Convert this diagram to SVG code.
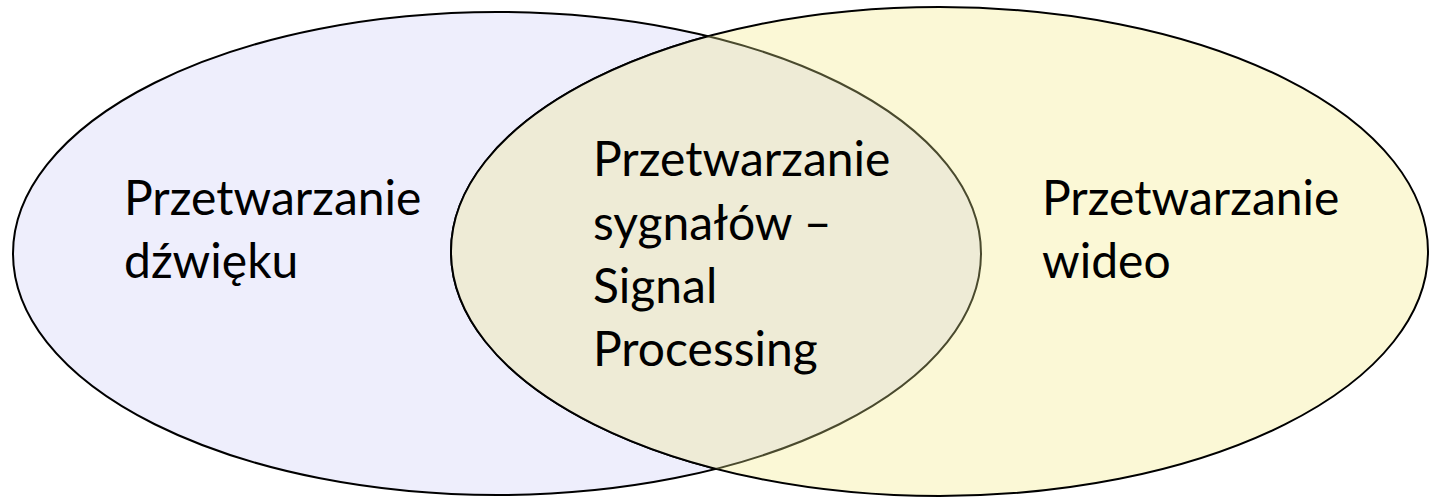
<svg xmlns="http://www.w3.org/2000/svg" width="1429" height="497" viewBox="0 0 1429 497">
<style>
  .lbl { font-family: Lato, "Carlito", "Liberation Sans", sans-serif; font-size: 48px; fill: #000; }
  .outline { fill: none; stroke: #000; stroke-width: 2; }
</style>
<defs>
  <clipPath id="clipLeft"><ellipse cx="497" cy="253.5" rx="484" ry="241.5"/></clipPath>
  <clipPath id="clipRight"><ellipse cx="939.5" cy="251.5" rx="488.5" ry="244.5"/></clipPath>
</defs>
<rect width="1429" height="497" fill="#ffffff"/>
<g id="left">
  <ellipse cx="497" cy="253.5" rx="484" ry="241.5" fill="#EEEEFC" stroke="#000" stroke-width="2"/>
</g>
<g id="right">
  <ellipse cx="939.5" cy="251.5" rx="488.5" ry="244.5" fill="#FBF8D6" stroke="#000" stroke-width="2"/>
</g>
<g id="overlap">
  <ellipse cx="939.5" cy="251.5" rx="488.5" ry="244.5" fill="#EEEBD6" clip-path="url(#clipLeft)"/>
  <ellipse cx="497" cy="253.5" rx="484" ry="241.5" fill="none" stroke="#4A4A2E" stroke-width="2" clip-path="url(#clipRight)"/>
  <ellipse cx="939.5" cy="251.5" rx="488.5" ry="244.5" class="outline" clip-path="url(#clipLeft)"/>
</g>
<g id="label-left">
  <text class="lbl" x="124" y="215">Przetwarzanie</text>
  <text class="lbl" x="124" y="278">dźwięku</text>
</g>
<g id="label-center">
  <text class="lbl" x="593" y="176">Przetwarzanie</text>
  <text class="lbl" x="593" y="239.5">sygnałów –</text>
  <text class="lbl" x="593" y="303">Signal</text>
  <text class="lbl" x="593" y="366">Processing</text>
</g>
<g id="label-right">
  <text class="lbl" x="1042" y="215">Przetwarzanie</text>
  <text class="lbl" x="1042" y="278">wideo</text>
</g>
<g id="connectors"></g>
</svg>
